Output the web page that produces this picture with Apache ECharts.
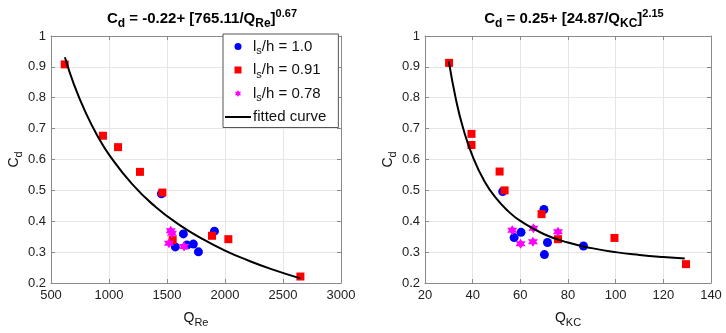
<!DOCTYPE html>
<html>
<head>
<meta charset="utf-8">
<script src="https://cdn.jsdelivr.net/npm/echarts@6/dist/echarts.min.js"></script>
<style>
  html, body { margin: 0; padding: 0; background: #fff; }
  #chart { width: 726px; height: 333px; }
</style>
</head>
<body>
<div id="chart"></div>
<script>
// left panel: Cd vs Q_Re
var leftBlueQ = [1452, 1572, 1641, 1672, 1727, 1771, 1909];
var leftBlueCd = [0.489, 0.317, 0.359, 0.323, 0.326, 0.301, 0.368];
var leftRedQ = [618, 948, 1078, 1267, 1460, 1549, 1888, 2029, 2650];
var leftRedCd = [0.908, 0.677, 0.640, 0.560, 0.493, 0.339, 0.353, 0.342, 0.221];
var leftMagQ = [1517, 1532, 1543, 1647];
var leftMagCd = [0.329, 0.369, 0.361, 0.318];
var leftCurveQ = [620, 700, 800, 900, 1000, 1200, 1400, 1600, 1800, 2000, 2200, 2400, 2650];
var leftCurveCd = [0.931, 0.841, 0.751, 0.677, 0.616, 0.520, 0.447, 0.390, 0.344, 0.305, 0.273, 0.245, 0.215];

// right panel: Cd vs Q_KC
var rightBlueQ = [52.6, 57.4, 60.3, 69.9, 70.1, 71.4, 86.5];
var rightBlueCd = [0.496, 0.347, 0.364, 0.438, 0.292, 0.331, 0.320];
var rightRedQ = [30.1, 39.5, 39.5, 51.3, 53.4, 68.9, 75.8, 99.5, 129.5];
var rightRedCd = [0.913, 0.683, 0.647, 0.561, 0.500, 0.423, 0.342, 0.346, 0.261];
var rightMagQ = [56.6, 60.1, 65.3, 65.5, 75.8];
var rightMagCd = [0.371, 0.327, 0.334, 0.377, 0.366];
var rightCurveQ = [30, 33, 36, 40, 45, 50, 55, 60, 70, 80, 90, 100, 110, 120, 129];
var rightCurveCd = [0.918, 0.794, 0.701, 0.610, 0.529, 0.473, 0.432, 0.401, 0.358, 0.331, 0.313, 0.300, 0.291, 0.284, 0.279];

var names = ['ls/h = 1.0', 'ls/h = 0.91', 'ls/h = 0.78', 'fitted curve'];

var FONT = '"Liberation Sans", Arial, sans-serif';
var star = 'path://M0,-10 L2.9,-5 L8.7,-5 L5.8,0 L8.7,5 L2.9,5 L0,10 L-2.9,5 L-8.7,5 L-5.8,0 L-8.7,-5 L-2.9,-5 Z';
var square = 'path://M0,0 L10,0 L10,10 L0,10 Z';
var dash = 'path://M0,0 L26,0 L26,2 L0,2 Z';

function pairs(xs, ys) {
  return xs.map(function (x, i) { return [x, ys[i]]; });
}

var subRich = {
  a: { fontSize: 14, lineHeight: 20, fontFamily: FONT, color: '#111' },
  s: { fontSize: 11, lineHeight: 8, verticalAlign: 'bottom', fontFamily: FONT, color: '#111' }
};
var legRich = {
  a: { fontSize: 15, lineHeight: 20, fontFamily: FONT, color: '#111' },
  s: { fontSize: 11, lineHeight: 8, verticalAlign: 'bottom', fontFamily: FONT, color: '#111' }
};
var titleRich = {
  b: { fontSize: 15, fontWeight: 'bold', lineHeight: 22, fontFamily: FONT, color: '#000' },
  s: { fontSize: 12, fontWeight: 'bold', lineHeight: 8, verticalAlign: 'bottom', fontFamily: FONT, color: '#000' },
  p: { fontSize: 11, fontWeight: 'bold', lineHeight: 10, verticalAlign: 'top', fontFamily: FONT, color: '#000' }
};

function xAxisBase(gi, min, max, step, nameText) {
  return {
    type: 'value', gridIndex: gi, min: min, max: max, interval: step,
    name: nameText, nameLocation: 'middle', nameGap: 25,
    nameTextStyle: { rich: subRich },
    axisLine: { lineStyle: { color: '#8a8a8a' } },
    axisTick: { inside: true, length: 4, lineStyle: { color: '#8a8a8a' } },
    axisLabel: { color: '#222', fontSize: 13, fontFamily: FONT, margin: 6,
      formatter: function (v) { return String(v); } },
    splitLine: { lineStyle: { color: '#e6e6e6' } }
  };
}
function yAxisBase(gi) {
  return {
    type: 'value', gridIndex: gi, min: 0.2, max: 1, interval: 0.1,
    name: '{a|C}{s|d}', nameLocation: 'middle', nameGap: 27,
    nameTextStyle: { rich: subRich },
    axisLine: { show: true, lineStyle: { color: '#8a8a8a' } },
    axisTick: { show: true, inside: true, length: 4, lineStyle: { color: '#8a8a8a' } },
    axisLabel: { color: '#222', fontSize: 13, fontFamily: FONT, margin: 5,
      formatter: function (v) { return String(Math.round(v * 10) / 10); } },
    splitLine: { lineStyle: { color: '#e6e6e6' } }
  };
}
function boxAxisX(gi, min, max, step) {
  return { type: 'value', gridIndex: gi, position: 'top', min: min, max: max, interval: step,
    axisLine: { lineStyle: { color: '#8a8a8a' } },
    axisTick: { inside: true, length: 4, lineStyle: { color: '#8a8a8a' } },
    axisLabel: { show: false }, splitLine: { show: false } };
}
function boxAxisY(gi) {
  return { type: 'value', gridIndex: gi, position: 'right', min: 0.2, max: 1, interval: 0.1,
    axisLine: { show: true, lineStyle: { color: '#8a8a8a' } },
    axisTick: { show: true, inside: true, length: 4, lineStyle: { color: '#8a8a8a' } },
    axisLabel: { show: false }, splitLine: { show: false } };
}

function scatter(name, gi, data, symbol, size, color) {
  return { name: name, type: 'scatter', xAxisIndex: gi, yAxisIndex: gi,
    symbol: symbol, symbolSize: size, data: data,
    itemStyle: { color: color, opacity: 1 } };
}
function curve(gi, data) {
  return { name: names[3], type: 'line', xAxisIndex: gi, yAxisIndex: gi, smooth: true,
    symbol: 'none', data: data, lineStyle: { color: '#000', width: 2 }, itemStyle: { color: '#000' } };
}

var chart = echarts.init(document.getElementById('chart'));
var option = {
  animation: false,
  backgroundColor: '#fff',
  title: [
    { text: '{b|C}{s|d}{b| = -0.22+ [765.11/Q}{s|Re}{b|]}{p|0.67}', left: 197, top: 3, textAlign: 'center',
      textStyle: { rich: titleRich } },
    { text: '{b|C}{s|d}{b| = 0.25+ [24.87/Q}{s|KC}{b|]}{p|2.15}', left: 569, top: 3, textAlign: 'center',
      textStyle: { rich: titleRich } }
  ],
  legend: {
    left: 223, top: 34, orient: 'vertical', itemGap: 6, itemWidth: 26, itemHeight: 7,
    backgroundColor: '#fff', borderColor: '#555', borderWidth: 1, padding: [5, 12, 3, 2],
    data: [
      { name: names[0], icon: 'circle' },
      { name: names[1], icon: square },
      { name: names[2], icon: star },
      { name: names[3], icon: dash }
    ],
    textStyle: { rich: legRich, padding: [0, 0, 0, -3] },
    formatter: function (n) {
      if (n.indexOf('ls') === 0) return '{a|l}{s|s}{a|' + n.slice(2) + '}';
      return '{a|' + n + '}';
    }
  },
  grid: [
    { left: 51, right: 385, top: 36, bottom: 47 },
    { left: 425, right: 15, top: 36, bottom: 47 }
  ],
  xAxis: [
    xAxisBase(0, 500, 3000, 500, '{a|Q}{s|Re}'),
    xAxisBase(1, 20, 140, 20, '{a|Q}{s|KC}'),
    boxAxisX(0, 500, 3000, 500),
    boxAxisX(1, 20, 140, 20)
  ],
  yAxis: [yAxisBase(0), yAxisBase(1), boxAxisY(0), boxAxisY(1)],
  series: [
    scatter(names[0], 0, pairs(leftBlueQ, leftBlueCd), 'circle', 9, '#0000ff'),
    scatter(names[1], 0, pairs(leftRedQ, leftRedCd), 'rect', 8, '#ff0000'),
    scatter(names[2], 0, pairs(leftMagQ, leftMagCd), star, 10, '#ff00ff'),
    curve(0, pairs(leftCurveQ, leftCurveCd)),
    scatter(names[0], 1, pairs(rightBlueQ, rightBlueCd), 'circle', 9, '#0000ff'),
    scatter(names[1], 1, pairs(rightRedQ, rightRedCd), 'rect', 8, '#ff0000'),
    scatter(names[2], 1, pairs(rightMagQ, rightMagCd), star, 10, '#ff00ff'),
    curve(1, pairs(rightCurveQ, rightCurveCd))
  ]
};
chart.setOption(option);
</script>
</body>
</html>
